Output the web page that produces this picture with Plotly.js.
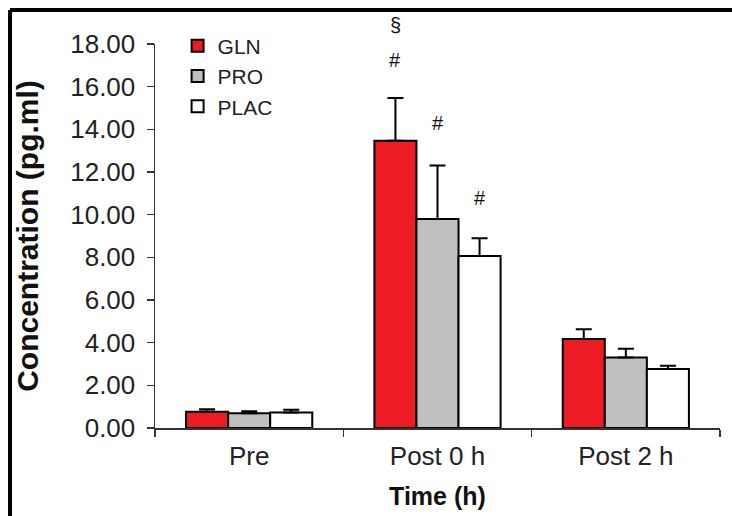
<!DOCTYPE html>
<html>
<head>
<meta charset="utf-8">
<script src="https://cdn.plot.ly/plotly-3.0.1.min.js"></script>
<style>
html,body{margin:0;padding:0;background:#fff;}
#chart{width:732px;height:516px;}
</style>
</head>
<body>
<div id="chart"></div>
<script>
var categories = ['Pre', 'Post 0 h', 'Post 2 h'];
var seriesNames = ['GLN', 'PRO', 'PLAC'];
var glnValues = [0.76, 13.47, 4.17];
var glnErrors = [0.12, 2.0, 0.46];
var proValues = [0.69, 9.8, 3.3];
var proErrors = [0.1, 2.5, 0.42];
var placValues = [0.73, 8.06, 2.77];
var placErrors = [0.13, 0.83, 0.15];
var yTicks = [0, 2, 4, 6, 8, 10, 12, 14, 16, 18];

var markText = ['§', '#', '#', '#'];
var markSeries = [0, 0, 1, 2];
var markCategory = [1, 1, 1, 1];
var markY = [18.9, 17.25, 14.3, 10.8];

var colors = ['#ED1C24', '#C0C0C0', '#FFFFFF'];
var valueSets = [glnValues, proValues, placValues];
var errorSets = [glnErrors, proErrors, placErrors];
var bargap = 0.33;
var yMax = 18;
var FONT = 'Liberation Sans, Arial, sans-serif';

var traces = seriesNames.map(function(name, i){
  return {
    type: 'bar', name: name, x: categories, y: valueSets[i],
    marker: {color: colors[i], line: {color: '#000', width: 2}},
    error_y: {type: 'data', symmetric: false, array: errorSets[i],
              arrayminus: errorSets[i].map(function(){ return 0; }),
              visible: true, color: '#000', thickness: 2, width: 8},
    cliponaxis: false
  };
});

var barW = (1 - bargap) / 3;
var annotations = markText.map(function(t, k){
  return {
    x: markCategory[k] + (markSeries[k] - 1) * barW, y: markY[k] / yMax,
    xref: 'x', yref: 'paper', xanchor: 'center', yanchor: 'middle',
    text: t, showarrow: false,
    font: {family: FONT, size: 20, color: '#111'}
  };
});

var shapes = [
  {type: 'line', xref: 'paper', yref: 'paper', x0: -0.2566, x1: 1.1, y0: 1.0885, y1: 1.0885, line: {color: '#000', width: 4}},
  {type: 'line', xref: 'paper', yref: 'paper', x0: -0.2566, x1: -0.2566, y0: 1.0885, y1: -0.3, line: {color: '#000', width: 4}},
  {type: 'line', xref: 'paper', yref: 'paper', x0: 0, x1: 0, y0: 0, y1: -0.02, line: {color: '#333', width: 1.5}}
];

var layout = {
  width: 732, height: 516,
  margin: {l: 155, r: 12, t: 44, b: 88},
  paper_bgcolor: '#fff', plot_bgcolor: '#fff',
  barmode: 'group', bargap: bargap, bargroupgap: 0,
  showlegend: true,
  legend: {x: 0.04, y: 1.048, xanchor: 'left', yanchor: 'top', bgcolor: 'rgba(0,0,0,0)',
           font: {family: FONT, size: 21, color: '#222'}, tracegroupgap: 0, itemwidth: 30},
  font: {family: FONT, color: '#222'},
  xaxis: {
    type: 'category', showline: true, linecolor: '#333', linewidth: 1.5,
    ticks: 'outside', tickson: 'boundaries', ticklen: 7, tickcolor: '#333', tickwidth: 1.5,
    ticklabelstandoff: 4,
    tickfont: {family: FONT, size: 26, color: '#222'},
    showgrid: false, zeroline: false,
    title: {text: '<b>Time (h)</b>', font: {family: FONT, size: 25, color: '#111'}, standoff: 18}
  },
  yaxis: {
    range: [0, yMax], tickvals: yTicks, tickformat: '.2f',
    showline: true, linecolor: '#333', linewidth: 1.5,
    ticks: 'outside', ticklen: 7, tickcolor: '#333', tickwidth: 1.5, ticklabelstandoff: 6,
    tickfont: {family: FONT, size: 26, color: '#222'},
    showgrid: false, zeroline: false,
    title: {text: '<b>Concentration (pg.ml)</b>', font: {family: FONT, size: 30, color: '#111'}, standoff: 22}
  },
  annotations: annotations,
  shapes: shapes
};

Plotly.newPlot('chart', traces, layout, {displayModeBar: false, staticPlot: true});
</script>
</body>
</html>
